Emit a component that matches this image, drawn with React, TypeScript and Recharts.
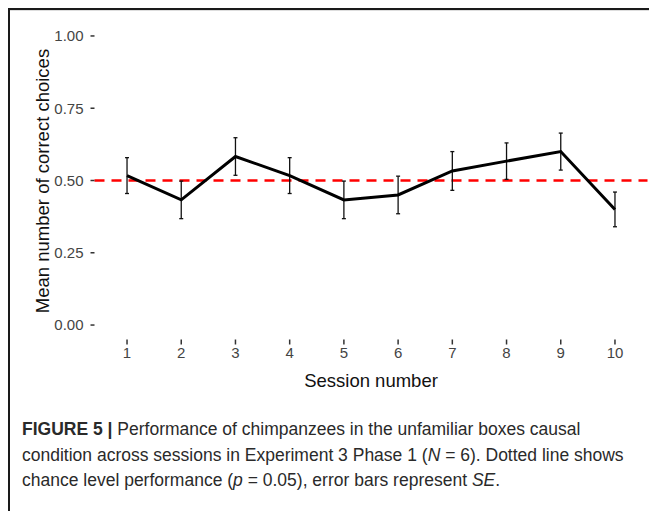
import { ErrorBar, Line, LineChart, ReferenceLine, XAxis, YAxis } from "recharts";

const sessions = [1, 2, 3, 4, 5, 6, 7, 8, 9, 10];
const meanCorrect = [0.517, 0.433, 0.583, 0.517, 0.433, 0.45, 0.533, 0.567, 0.6, 0.4];
const standardError = [0.062, 0.065, 0.065, 0.062, 0.065, 0.065, 0.067, 0.063, 0.064, 0.06];
const yTicks = [0, 0.25, 0.5, 0.75, 1];
const chanceLevel = 0.5;

const data = sessions.map((s, i) => ({ session: s, mean: meanCorrect[i], se: standardError[i] }));

const axisFont = "'Liberation Sans', Arial, sans-serif";

function XTitle({ viewBox }: any) {
  const cx = viewBox.x + viewBox.width / 2;
  return (
    <text x={cx} y={viewBox.y + 47.2} textAnchor="middle" fontSize={18.5} fontFamily={axisFont} fill="#111">
      Session number
    </text>
  );
}

function YTitle() {
  return (
    <text
      x={39}
      y={170}
      transform="rotate(-90, 39, 170)"
      textAnchor="middle"
      fontSize={18.5}
      fontFamily={axisFont}
      fill="#111"
    >
      Mean number of correct choices
    </text>
  );
}

export default function App() {
  return (
    <div
      style={{
        width: 647,
        height: 501,
        borderTop: "2px solid #1a1a1a",
        borderLeft: "2px solid #1a1a1a",
        background: "#fff",
        overflow: "hidden",
        fontFamily: axisFont,
      }}
    >
      <div style={{ borderTop: "1px solid #dddddd" }} />
      <LineChart
        width={640}
        height={389}
        data={data}
        margin={{ top: 10.5, right: 2.5, left: 0, bottom: 0 }}
        style={{ fontFamily: axisFont }}
      >
        <XAxis
          type="number"
          dataKey="session"
          domain={[0.4, 10.6]}
          ticks={sessions}
          interval={0}
          axisLine={false}
          tickSize={5}
          tickMargin={3}
          height={60.5}
          tickLine={{ stroke: "#333", strokeWidth: 1.5 }}
          tick={{ fill: "#444", fontSize: 15, fontFamily: axisFont }}
          label={<XTitle />}
        />
        <YAxis
          type="number"
          domain={[-0.05, 1.05]}
          ticks={yTicks}
          interval={0}
          axisLine={false}
          width={84.5}
          tickSize={4}
          tickMargin={7}
          tickFormatter={(v: number) => v.toFixed(2)}
          tickLine={{ stroke: "#333", strokeWidth: 1.5 }}
          tick={{ fill: "#444", fontSize: 15, fontFamily: axisFont }}
          label={<YTitle />}
        />
        <ReferenceLine y={chanceLevel} stroke="#ff0000" strokeWidth={2.5} strokeDasharray="10 7" />
        <Line
          type="linear"
          dataKey="mean"
          stroke="#000"
          strokeWidth={3}
          dot={false}
          activeDot={false}
          isAnimationActive={false}
        >
          <ErrorBar dataKey="se" direction="y" width={2} stroke="#111" strokeWidth={1.3} isAnimationActive={false} />
        </Line>
      </LineChart>
      <div
        style={{
          marginTop: 17,
          paddingLeft: 12,
          fontSize: 17.5,
          lineHeight: "25.5px",
          color: "#2a2a2a",
          whiteSpace: "nowrap",
        }}
      >
        <b>FIGURE 5 |</b> Performance of chimpanzees in the unfamiliar boxes causal
        <br />
        condition across sessions in Experiment 3 Phase 1 (<i>N</i> = 6). Dotted line shows
        <br />
        chance level performance (<i>p</i> = 0.05), error bars represent <i>SE</i>.
      </div>
    </div>
  );
}
